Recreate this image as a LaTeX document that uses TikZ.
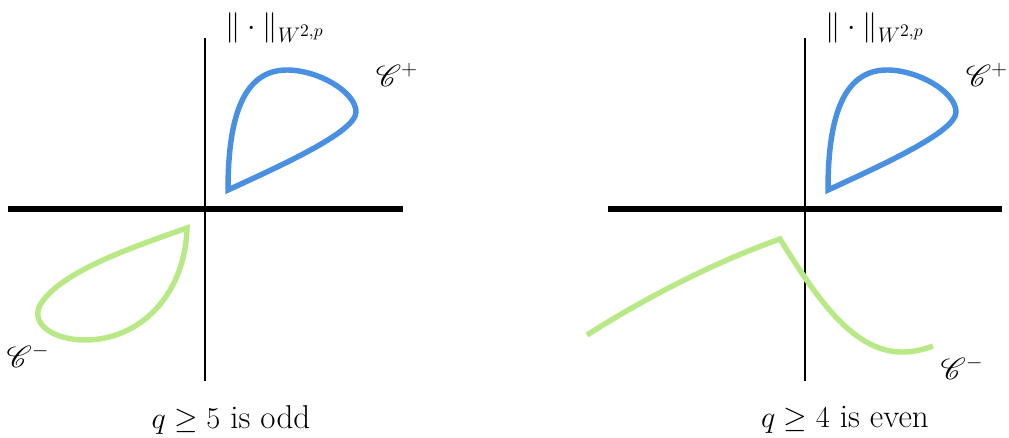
\documentclass[tikz,border=0pt]{standalone}
\usepackage{tikz}
\usetikzlibrary{positioning}
\usepackage{amsmath,amssymb}
\usepackage{mathrsfs}
\definecolor{loopblue}{HTML}{4A90E2}
\definecolor{loopgreen}{HTML}{B8E986}

\begin{document}
\begin{tikzpicture}[x=0.02cm, y=-0.02cm,
    haxis/.style={line width=3pt, black},
    vaxis/.style={line width=1.2pt, black},
    plusloop/.style={line width=3.1pt, loopblue},
    minusloop/.style={line width=3.1pt, loopgreen},
    lbl/.style={font=\LARGE, inner sep=0pt},
    caption/.style={font=\fontsize{18.8}{22}\selectfont, inner sep=0pt}
]
\useasboundingbox (0,0) rectangle (1009,438);

% left panel: q odd
\draw[vaxis] (205,38) -- (205,381);
\draw[haxis] (8,209) -- (403,209);
\node[lbl] (normL) at (275,28) {$\|\cdot\|_{W^{2,p}}$};
\draw[plusloop] (228,190) .. controls (228,120) and (242,70) .. (287,70)
  .. controls (318,70) and (356,92) .. (356,112)
  .. controls (356,132) and (280,166) .. (228,190) -- cycle;
\draw[minusloop] (187,228) .. controls (130,248) and (60,272) .. (40,305)
  .. controls (30,325) and (55,340) .. (85,340)
  .. controls (140,340) and (185,295) .. (187,228) -- cycle;
\node[lbl] (plusL) at (397,75) {$\mathscr{C}^+$};
\node[lbl] (minusL) at (28,356) {$\mathscr{C}^-$};
\node[caption] (capL) at (231,420) {$q\geq 5$ is odd};

% right panel: q even
\draw[vaxis] (805,38) -- (805,381);
\draw[haxis] (608,209) -- (1002,209);
\node[lbl] (normR) at (875,28) {$\|\cdot\|_{W^{2,p}}$};
\draw[plusloop] (828,190) .. controls (828,120) and (842,70) .. (887,70)
  .. controls (918,70) and (956,92) .. (956,112)
  .. controls (956,132) and (880,166) .. (828,190) -- cycle;
\draw[minusloop] (587,335) .. controls (645,298) and (715,262) .. (780,239)
  .. controls (830,320) and (870,370) .. (933,346);
\node[lbl] (plusR) at (987,75) {$\mathscr{C}^+$};
\node[lbl] (minusR) at (962,368) {$\mathscr{C}^-$};
\node[caption] (capR) at (845,420) {$q\geq 4$ is even};
\end{tikzpicture}
\end{document}
